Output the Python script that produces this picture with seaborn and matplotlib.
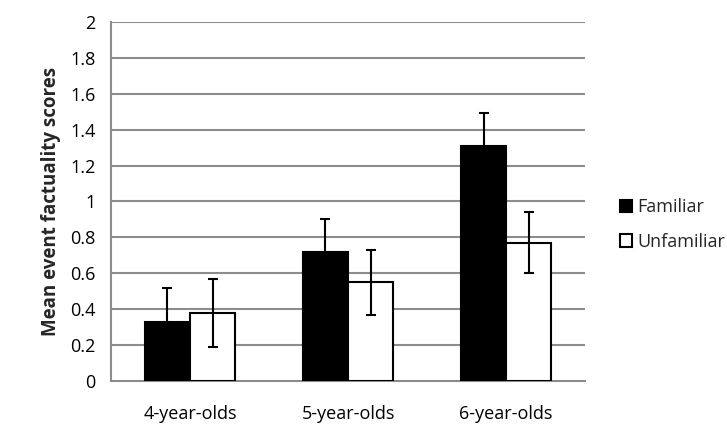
import matplotlib
matplotlib.use("Agg")
import matplotlib.pyplot as plt
import seaborn as sns
import pandas as pd
import numpy as np
from matplotlib.patches import Patch

categories = ["4-year-olds", "5-year-olds", "6-year-olds"]
series = ["Familiar", "Unfamiliar"]
familiar = [0.33, 0.72, 1.31]
unfamiliar = [0.38, 0.55, 0.77]
familiar_err = [0.19, 0.18, 0.18]
unfamiliar_err = [0.19, 0.18, 0.17]
yticks = [0, 0.2, 0.4, 0.6, 0.8, 1, 1.2, 1.4, 1.6, 1.8, 2]
ytick_labels = ["0", "0.2", "0.4", "0.6", "0.8", "1", "1.2", "1.4", "1.6", "1.8", "2"]

df = pd.DataFrame({
    "group": categories * 2,
    "condition": [series[0]] * 3 + [series[1]] * 3,
    "score": familiar + unfamiliar,
})
errs = {series[0]: familiar_err, series[1]: unfamiliar_err}

sns.set_theme(style="white")
plt.rcParams["font.family"] = ["Open Sans", "DejaVu Sans"]

fig = plt.figure(figsize=(7.27, 4.30), dpi=100)
ax = fig.add_axes([0.1527, 0.114, 0.652, 0.835])

grid_c = "#8c8c8c"
sns.barplot(data=df, x="group", y="score", hue="condition", order=categories,
            hue_order=series, palette={"Familiar": "black", "Unfamiliar": "white"},
            width=0.57, edgecolor="black", linewidth=1.5, errorbar=None,
            legend=False, ax=ax, zorder=3)

for cont, name in zip(ax.containers, series):
    xs = [p.get_x() + p.get_width() / 2 for p in cont]
    hs = [p.get_height() for p in cont]
    ax.errorbar(xs, hs, yerr=errs[name], fmt="none", ecolor="black",
                elinewidth=1.5, capsize=3.5, capthick=1.5, zorder=4)

ax.set_ylim(0, 2)
ax.set_xlim(-0.5, 2.5)
ax.set_yticks(yticks)
ax.set_yticklabels(ytick_labels)
for y in yticks[1:]:
    ax.axhline(y, color=grid_c, lw=1.5, zorder=1)

for s in ["top", "right"]:
    ax.spines[s].set_visible(False)
for s in ["left", "bottom"]:
    ax.spines[s].set_color(grid_c)
    ax.spines[s].set_linewidth(1.5)

ax.set_xticks([0, 1, 2])
ax.set_xticks([-0.5, 0.5, 1.5, 2.5], minor=True)
ax.tick_params(axis="x", which="major", length=0, pad=17, labelsize=13, colors="black")
ax.tick_params(axis="x", which="minor", length=5, width=1.5, color=grid_c, direction="out")
ax.tick_params(axis="y", which="major", length=5, width=1.5, color=grid_c, direction="out",
               labelsize=13, labelcolor="black", pad=6)
ax.set_xlabel("")
ax.set_ylabel("Mean event factuality scores", fontsize=13.5, fontweight="bold", labelpad=7)

handles = [Patch(facecolor="black", edgecolor="black", linewidth=1.5),
           Patch(facecolor="white", edgecolor="black", linewidth=1.5)]
fig.legend(handles, series, loc="center left", bbox_to_anchor=(0.83, 0.478),
           frameon=False, fontsize=13, handlelength=0.7, handleheight=0.7,
           handletextpad=0.3, labelspacing=0.9)

fig.savefig("out.png", dpi=100)
